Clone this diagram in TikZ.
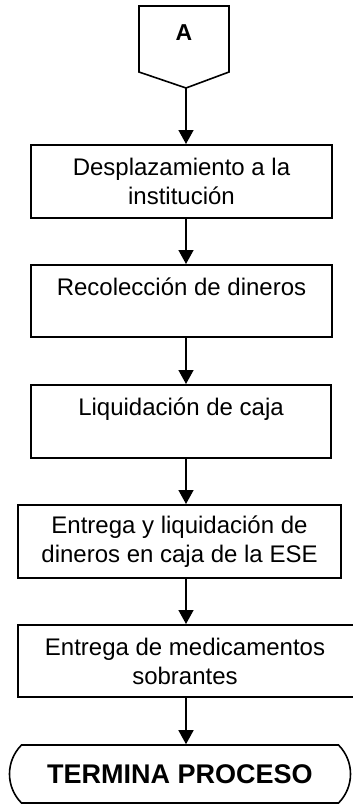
\documentclass[tikz,border=0pt]{standalone}
\usepackage{fontspec}
\setmainfont{Liberation Sans}
\usetikzlibrary{arrows.meta,shapes.misc}
\begin{document}
\begin{tikzpicture}[x=1pt,y=1pt,
  box/.style={draw,line width=2pt,rectangle,inner sep=0pt,align=center,
    font=\fontsize{24}{29}\selectfont},
  arr/.style={line width=1.5pt,-{Triangle[width=15pt,length=14pt]}},
  term/.style={draw,line width=1.6pt,rounded rectangle,rounded rectangle arc length=90,
    inner sep=0pt,font=\fontsize{27}{32}\selectfont\bfseries}]
\useasboundingbox (0,0) rectangle (353,-808);
\clip (0,0) rectangle (353,-808);
% off-page connector
\draw[line width=1.6pt] (139,-6) -- (229,-6) -- (229,-72) -- (186,-88) -- (139,-72) -- cycle;
\node[font=\fontsize{23}{27}\selectfont\bfseries] (A) at (184,-33) {A};
\coordinate (Atip) at (186,-88);
% boxes
\node[box,minimum width=301pt,minimum height=73pt] (b1) at (181.5,-181.5) {Desplazamiento a la\\institución};
\node[box,minimum width=301pt,minimum height=72pt] (b2) at (181.5,-301) {Recolección de dineros\\\mbox{}};
\node[box,minimum width=300pt,minimum height=73pt] (b3) at (181,-421.5) {Liquidación de caja\\\mbox{}};
\node[box,minimum width=323pt,minimum height=73pt] (b4) at (179.5,-541.5) {Entrega y liquidación de\\dineros en caja de la ESE};
\node[box,minimum width=347pt,minimum height=72pt] (b5) at (191.5,-661) {\hspace*{-13pt}Entrega de medicamentos\\\hspace*{-13pt}sobrantes};
\node[term,minimum width=341pt,minimum height=58pt] (t) at (180,-774) {TERMINA PROCESO};
% arrows
\draw[arr] (Atip) -- (Atip |- b1.north);
\draw[arr] (b1.south -| Atip) -- (b2.north -| Atip);
\draw[arr] (b2.south -| Atip) -- (b3.north -| Atip);
\draw[arr] (b3.south -| Atip) -- (b4.north -| Atip);
\draw[arr] (b4.south -| Atip) -- (b5.north -| Atip);
\draw[arr] (b5.south -| Atip) -- (t.north -| Atip);
\end{tikzpicture}
\end{document}
